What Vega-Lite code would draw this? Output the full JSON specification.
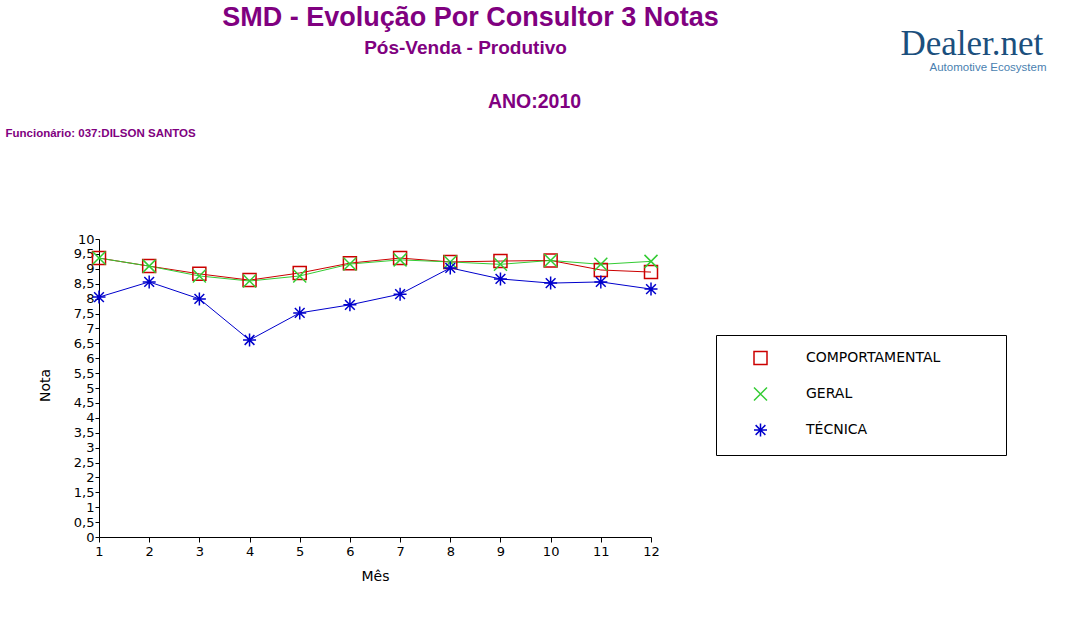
{
  "$schema": "https://vega.github.io/schema/vega-lite/v6.json",
  "width": 552,
  "height": 298,
  "autosize": {"type": "none"},
  "padding": {"left": 99, "top": 239, "right": 424, "bottom": 99},
  "background": "white",
  "config": {
    "view": {"stroke": null},
    "axis": {"grid": false, "labelOverlap": false, "labelFlush": false, "labelBound": false, "domainColor": "black", "tickColor": "black", "labelColor": "black", "titleColor": "black"},
    "legend": {"orient": "none", "legendX": 617, "legendY": 96, "strokeColor": "black", "fillColor": "white", "padding": 15.5, "symbolOffset": 21.5, "labelOffset": 38, "rowPadding": 17, "labelFont": "DejaVu Sans", "labelFontSize": 14, "labelColor": "black", "symbolSize": 169, "symbolStrokeWidth": 1.5, "titleOrient": "right", "titlePadding": 50, "titleFontSize": 11}
  },
  "data": {
    "values": [
      {"Mes": 1, "Serie": "COMPORTAMENTAL", "Nota": 9.36},
      {"Mes": 2, "Serie": "COMPORTAMENTAL", "Nota": 9.09},
      {"Mes": 3, "Serie": "COMPORTAMENTAL", "Nota": 8.83},
      {"Mes": 4, "Serie": "COMPORTAMENTAL", "Nota": 8.62},
      {"Mes": 5, "Serie": "COMPORTAMENTAL", "Nota": 8.86},
      {"Mes": 6, "Serie": "COMPORTAMENTAL", "Nota": 9.19},
      {"Mes": 7, "Serie": "COMPORTAMENTAL", "Nota": 9.36},
      {"Mes": 8, "Serie": "COMPORTAMENTAL", "Nota": 9.23},
      {"Mes": 9, "Serie": "COMPORTAMENTAL", "Nota": 9.26},
      {"Mes": 10, "Serie": "COMPORTAMENTAL", "Nota": 9.28},
      {"Mes": 11, "Serie": "COMPORTAMENTAL", "Nota": 8.96},
      {"Mes": 12, "Serie": "COMPORTAMENTAL", "Nota": 8.89},
      {"Mes": 1, "Serie": "GERAL", "Nota": 9.36},
      {"Mes": 2, "Serie": "GERAL", "Nota": 9.09},
      {"Mes": 3, "Serie": "GERAL", "Nota": 8.76},
      {"Mes": 4, "Serie": "GERAL", "Nota": 8.59},
      {"Mes": 5, "Serie": "GERAL", "Nota": 8.76},
      {"Mes": 6, "Serie": "GERAL", "Nota": 9.16},
      {"Mes": 7, "Serie": "GERAL", "Nota": 9.3},
      {"Mes": 8, "Serie": "GERAL", "Nota": 9.23},
      {"Mes": 9, "Serie": "GERAL", "Nota": 9.15},
      {"Mes": 10, "Serie": "GERAL", "Nota": 9.28},
      {"Mes": 11, "Serie": "GERAL", "Nota": 9.15},
      {"Mes": 12, "Serie": "GERAL", "Nota": 9.25},
      {"Mes": 1, "Serie": "TÉCNICA", "Nota": 8.05},
      {"Mes": 2, "Serie": "TÉCNICA", "Nota": 8.56},
      {"Mes": 3, "Serie": "TÉCNICA", "Nota": 7.99},
      {"Mes": 4, "Serie": "TÉCNICA", "Nota": 6.61},
      {"Mes": 5, "Serie": "TÉCNICA", "Nota": 7.52},
      {"Mes": 6, "Serie": "TÉCNICA", "Nota": 7.79},
      {"Mes": 7, "Serie": "TÉCNICA", "Nota": 8.15},
      {"Mes": 8, "Serie": "TÉCNICA", "Nota": 9.03},
      {"Mes": 9, "Serie": "TÉCNICA", "Nota": 8.66},
      {"Mes": 10, "Serie": "TÉCNICA", "Nota": 8.52},
      {"Mes": 11, "Serie": "TÉCNICA", "Nota": 8.56},
      {"Mes": 12, "Serie": "TÉCNICA", "Nota": 8.32}
    ]
  },
  "layer": [
    {
      "transform": [{"filter": "datum.Serie === 'COMPORTAMENTAL'"}],
      "mark": {"type": "line", "strokeWidth": 1},
      "encoding": {
        "x": {"field": "Mes", "type": "quantitative", "scale": {"domain": [1, 12], "nice": false, "zero": false},
          "axis": {"orient": "bottom", "values": [1,2,3,4,5,6,7,8,9,10,11,12], "format": "d", "tickSize": 5, "labelPadding": 3, "labelFont": "DejaVu Sans", "labelFontSize": 13,
            "title": "Mês", "titleFont": "DejaVu Sans", "titleFontSize": 14, "titleFontWeight": "normal", "titleX": 276, "titleY": 39, "titleAlign": "center", "titleBaseline": "middle"}},
        "y": {"field": "Nota", "type": "quantitative", "scale": {"domain": [0, 10], "nice": false},
          "axis": {"orient": "left", "values": [0,0.5,1,1.5,2,2.5,3,3.5,4,4.5,5,5.5,6,6.5,7,7.5,8,8.5,9,9.5,10], "labelExpr": "replace(format(datum.value, '.1~f'), '.', ',')", "tickSize": 4, "labelPadding": 1, "labelFont": "DejaVu Sans", "labelFontSize": 13,
            "title": "Nota", "titleFont": "DejaVu Sans", "titleFontSize": 14, "titleFontWeight": "normal", "titleX": -54, "titleY": 146, "titleAngle": 270, "titleAlign": "center", "titleBaseline": "middle"}},
        "color": {"field": "Serie", "type": "nominal", "title": " ", "scale": {"domain": ["COMPORTAMENTAL", "GERAL", "TÉCNICA"], "range": ["#cc0000", "#33cc33", "#0000cc"]}}
      }
    },
    {
      "transform": [{"filter": "datum.Serie === 'GERAL'"}],
      "mark": {"type": "line", "strokeWidth": 1},
      "encoding": {
        "x": {"field": "Mes", "type": "quantitative",
          "axis": {"orient": "top", "domain": false, "ticks": false, "labels": false,
            "title": "SMD - Evolução Por Consultor 3 Notas", "titleFont": "Liberation Sans", "titleFontSize": 27, "titleFontWeight": "bold", "titleColor": "#800080", "titleX": 371, "titleY": -222, "titleAlign": "center", "titleBaseline": "middle", "titleAngle": 0}},
        "y": {"field": "Nota", "type": "quantitative",
          "axis": {"orient": "right", "domain": false, "ticks": false, "labels": false,
            "title": "Funcionário: 037:DILSON SANTOS", "titleFont": "Liberation Sans", "titleFontSize": 11.5, "titleFontWeight": "bold", "titleColor": "#800080", "titleX": -646, "titleY": -106, "titleAlign": "left", "titleBaseline": "middle", "titleAngle": 0}},
        "color": {"field": "Serie", "type": "nominal", "title": " ", "scale": {"domain": ["COMPORTAMENTAL", "GERAL", "TÉCNICA"], "range": ["#cc0000", "#33cc33", "#0000cc"]}}
      }
    },
    {
      "transform": [{"filter": "datum.Serie === 'TÉCNICA'"}],
      "mark": {"type": "line", "strokeWidth": 1},
      "encoding": {
        "x": {"field": "Mes", "type": "quantitative",
          "axis": {"orient": "top", "domain": false, "ticks": false, "labels": false,
            "title": "Pós-Venda - Produtivo", "titleFont": "Liberation Sans", "titleFontSize": 19, "titleFontWeight": "bold", "titleColor": "#800080", "titleX": 366, "titleY": -192, "titleAlign": "center", "titleBaseline": "middle", "titleAngle": 0}},
        "y": {"field": "Nota", "type": "quantitative",
          "axis": {"orient": "right", "domain": false, "ticks": false, "labels": false,
            "title": "ANO:2010", "titleFont": "Liberation Sans", "titleFontSize": 19.5, "titleFontWeight": "bold", "titleColor": "#800080", "titleX": -117, "titleY": -138, "titleAlign": "center", "titleBaseline": "middle", "titleAngle": 0}},
        "color": {"field": "Serie", "type": "nominal", "title": " ", "scale": {"domain": ["COMPORTAMENTAL", "GERAL", "TÉCNICA"], "range": ["#cc0000", "#33cc33", "#0000cc"]}}
      }
    },
    {
      "mark": {"type": "point", "filled": false, "size": 169, "strokeWidth": 1.5, "opacity": 1},
      "encoding": {
        "x": {"field": "Mes", "type": "quantitative",
          "axis": {"orient": "top", "domain": false, "ticks": false, "labels": false,
            "title": "Dealer.net", "titleFont": "Liberation Serif", "titleFontSize": 35, "titleFontWeight": "normal", "titleColor": "#1b4f7d", "titleX": 801, "titleY": -185, "titleAlign": "left", "titleBaseline": "alphabetic", "titleAngle": 0}},
        "y": {"field": "Nota", "type": "quantitative",
          "axis": {"orient": "right", "domain": false, "ticks": false, "labels": false,
            "title": "Automotive Ecosystem", "titleFont": "Liberation Sans", "titleFontSize": 11.5, "titleFontWeight": "normal", "titleColor": "#4a7fb0", "titleX": 278, "titleY": -169, "titleAlign": "left", "titleBaseline": "alphabetic", "titleAngle": 0}},
        "color": {"field": "Serie", "type": "nominal", "title": " ", "scale": {"domain": ["COMPORTAMENTAL", "GERAL", "TÉCNICA"], "range": ["#cc0000", "#33cc33", "#0000cc"]}},
        "shape": {"field": "Serie", "type": "nominal", "title": " ", "scale": {"domain": ["COMPORTAMENTAL", "GERAL", "TÉCNICA"], "range": ["square", "M-1,-1L1,1M-1,1L1,-1", "M0,-1L0,1M-1,0L1,0M-0.75,-0.75L0.75,0.75M-0.75,0.75L0.75,-0.75"]}}
      }
    }
  ],
  "resolve": {"axis": {"x": "independent", "y": "independent"}}
}
